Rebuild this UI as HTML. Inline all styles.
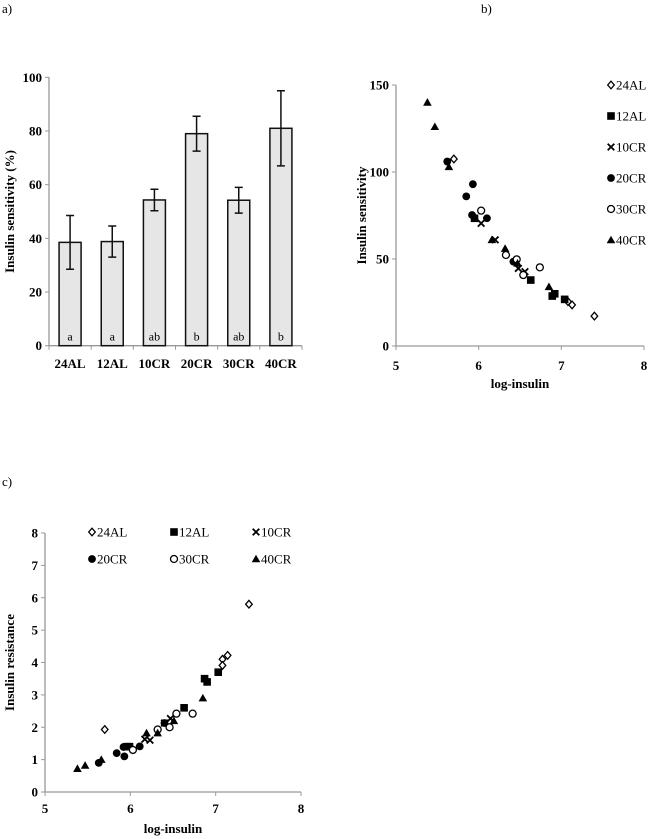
<!DOCTYPE html>
<html><head><meta charset="utf-8">
<style>
html,body{margin:0;padding:0;background:#fff;}
svg{display:block;font-family:"Liberation Serif","Times New Roman",serif;}
.tk{font-weight:bold;font-size:13px;fill:#000;font-family:"Liberation Serif",serif;}
.ttl{font-weight:bold;font-size:13px;fill:#000;font-family:"Liberation Serif",serif;}
.lg{font-size:13px;fill:#000;font-family:"Liberation Serif",serif;}
</style></head><body>
<svg id="root" width="650" height="839" viewBox="0 0 650 839">
<text x="2" y="13" font-size="13" font-family="Liberation Serif, serif">a)</text>
<text x="481" y="13" font-size="13" font-family="Liberation Serif, serif">b)</text>
<text x="2" y="486" font-size="13" font-family="Liberation Serif, serif">c)</text>
<g id="ga"></g>
<g id="gb"></g>
<g id="gc"></g>
</svg>
<script>
const NS="http://www.w3.org/2000/svg";
// ---- Chart a data ----
const barCategories=["24AL","12AL","10CR","20CR","30CR","40CR"];
const barValues=[38.5,38.8,54.3,79,54.2,81];
const barErrors=[10,5.8,4,6.5,4.8,14];
const barLetters=["a","a","ab","b","ab","b"];
const barTicks=[0,20,40,60,80,100];
// ---- Chart b/c data ----
const groups=["24AL","12AL","10CR","20CR","30CR","40CR"];
const bX={"24AL":[5.70,7.13,7.40,7.08],"12AL":[6.89,7.04,6.63,5.95,6.92],"10CR":[6.03,6.20,6.56,6.48],"20CR":[5.62,5.93,5.85,5.92,6.10,6.42],"30CR":[6.03,6.33,6.46,6.54,6.74],"40CR":[5.38,5.47,5.64,6.16,6.32,6.47,6.85]};
const bY={"24AL":[107.5,23.6,17.2,25.5],"12AL":[28.7,26.8,37.9,73.4,30],"10CR":[70.5,61,42.7,44.6],"20CR":[106,93,86,75.3,73.4,48.5],"30CR":[77.8,52.3,49.8,40.8,45.2],"40CR":[140,126,103,61,56,47.5,34]};
const cX={"24AL":[5.70,7.39,7.14,7.08,7.08],"12AL":[6.87,6.90,7.03,6.63,5.96,5.99],"10CR":[6.17,6.23,6.47,6.40],"20CR":[5.84,5.93,5.63,6.11,6.40,5.92],"30CR":[6.03,6.32,6.46,6.54,6.73],"40CR":[5.38,5.47,5.66,6.19,6.32,6.51,6.85]};
const cY={"24AL":[1.93,5.80,4.22,4.10,3.91],"12AL":[3.5,3.4,3.7,2.6,1.4,1.4],"10CR":[1.63,1.6,2.27,2.13],"20CR":[1.2,1.1,0.9,1.41,2.13,1.39],"30CR":[1.3,1.93,2.0,2.42,2.42],"40CR":[0.72,0.82,1.0,1.82,1.82,2.2,2.9]};
const xTicks=[5,6,7,8];
const bTicks=[0,50,100,150];
const cTicks=[0,1,2,3,4,5,6,7,8];

function el(p,tag,attrs,txt){const e=document.createElementNS(NS,tag);for(const k in attrs)e.setAttribute(k,attrs[k]);if(txt!==undefined)e.textContent=txt;p.appendChild(e);return e;}
const AX="#999";

// ---- Chart a ----
(function(){
const g=document.getElementById("ga");
const x0=49,x1=302,yT=77.3,yB=345.7,yMax=100;
const ys=v=>yB-(v/yMax)*(yB-yT);
const step=(x1-x0)/barCategories.length;
el(g,"line",{x1:x0,y1:yT,x2:x0,y2:yB,stroke:AX,"stroke-width":1.3});
el(g,"line",{x1:x0,y1:yB,x2:x1,y2:yB,stroke:AX,"stroke-width":1.3});
barTicks.forEach(t=>{el(g,"line",{x1:x0-4,y1:ys(t),x2:x0,y2:ys(t),stroke:AX});
 const tx=el(g,"text",{x:x0-7,y:ys(t)+4.5,"text-anchor":"end",class:"tk"},t);
 
 });
for(let i=0;i<=barCategories.length;i++)el(g,"line",{x1:x0+i*step,y1:yB,x2:x0+i*step,y2:yB+4,stroke:AX});
barCategories.forEach((c,i)=>{
 const cx=x0+step*(i+0.5),w=22;
 const r=el(g,"rect",{x:cx-w/2,y:ys(barValues[i]),width:w,height:yB-ys(barValues[i]),fill:"#e6e6e6",stroke:"#111","stroke-width":1.5});
 
 
 const hi=ys(barValues[i]+barErrors[i]),lo=ys(barValues[i]-barErrors[i]);
 const eb=el(g,"path",{d:`M${cx},${hi}V${lo}M${cx-4},${hi}H${cx+4}M${cx-4},${lo}H${cx+4}`,stroke:"#111","stroke-width":1.5,fill:"none"});
 
 
 const lt=el(g,"text",{x:cx,y:yB-5,"text-anchor":"middle","font-size":"12"},barLetters[i]);
 
 
 const cl=el(g,"text",{x:cx,y:368,"text-anchor":"middle",class:"tk"},c);
 
 
});
const yt=el(g,"text",{x:0,y:0,"text-anchor":"middle",class:"ttl",transform:`translate(14,${(yT+yB)/2}) rotate(-90)`},"Insulin sensitivity (%)");


})();

function marker(p,grp,x,y){
 const s=3.3;let m;
 if(grp==="24AL")m=el(p,"path",{d:`M${x},${y-s-0.5}L${x+s},${y}L${x},${y+s+0.5}L${x-s},${y}Z`,fill:"#fff",stroke:"#000","stroke-width":1.3});
 else if(grp==="12AL")m=el(p,"rect",{x:x-s-0.5,y:y-s-0.5,width:2*s+1,height:2*s+1,fill:"#000"});
 else if(grp==="10CR")m=el(p,"path",{d:`M${x-s},${y-s}L${x+s},${y+s}M${x+s},${y-s}L${x-s},${y+s}`,stroke:"#000","stroke-width":1.8});
 else if(grp==="20CR")m=el(p,"circle",{cx:x,cy:y,r:s+0.6,fill:"#000"});
 else if(grp==="30CR")m=el(p,"circle",{cx:x,cy:y,r:s+0.2,fill:"#fff",stroke:"#000","stroke-width":1.3});
 else m=el(p,"path",{d:`M${x},${y-s-1}L${x+s+1},${y+s}L${x-s-1},${y+s}Z`,fill:"#000"});
 return m;
}

function scatter(gid,X,Y,xs,ys,x0,x1,yT,yB,yTicks,ylab,ylabX,xlabY,tickY){
 const g=document.getElementById(gid);
 el(g,"line",{x1:x0,y1:yT,x2:x0,y2:yB,stroke:AX,"stroke-width":1.3});
 el(g,"line",{x1:x0,y1:yB,x2:x1,y2:yB,stroke:AX,"stroke-width":1.3});
 yTicks.forEach(t=>{el(g,"line",{x1:x0-4,y1:ys(t),x2:x0,y2:ys(t),stroke:AX});
  const tx=el(g,"text",{x:x0-7,y:ys(t)+4.5,"text-anchor":"end",class:"tk"},t);
  
  });
 xTicks.forEach(t=>{el(g,"line",{x1:xs(t),y1:yB,x2:xs(t),y2:yB+4,stroke:AX});
  const tx=el(g,"text",{x:xs(t),y:tickY,"text-anchor":"middle",class:"tk"},t);
  
  });
 groups.forEach(gr=>{X[gr].forEach((v,i)=>{const m=marker(g,gr,xs(v),ys(Y[gr][i]));
  
  });});
 const xt=el(g,"text",{x:(x0+x1)/2,y:xlabY,"text-anchor":"middle",class:"ttl"},"log-insulin");
 
 
 const yt=el(g,"text",{x:0,y:0,"text-anchor":"middle",class:"ttl",transform:`translate(${ylabX},${(yT+yB)/2}) rotate(-90)`},ylab);
 
 
 return g;
}

// ---- Chart b ----
(function(){
const x0=396,x1=644,yT=85,yB=346;
const xs=v=>x0+(v-5)/3*(x1-x0), ys=v=>yB-v/150*(yB-yT);
const g=scatter("gb",bX,bY,xs,ys,x0,x1,yT,yB,bTicks,"Insulin sensitivity",366,388,370);
groups.forEach((gr,i)=>{const y=85+i*31;
 const m=marker(g,gr,611,y);
 
 
 const t=el(g,"text",{x:616,y:y+4.5,class:"lg"},gr);
 
 });
})();

// ---- Chart c ----
(function(){
const x0=45,x1=301,yT=533,yB=792;
const xs=v=>x0+(v-5)/3*(x1-x0), ys=v=>yB-v/8*(yB-yT);
const g=scatter("gc",cX,cY,xs,ys,x0,x1,yT,yB,cTicks,"Insulin resistance",14,833,813);
groups.forEach((gr,i)=>{const col=i%3,row=Math.floor(i/3);
 const x=92+col*82,y=532+row*27;
 const m=marker(g,gr,x,y);
 
 
 const t=el(g,"text",{x:x+5,y:y+4.5,class:"lg"},gr);
 
 });
})();
</script>
</body></html>
